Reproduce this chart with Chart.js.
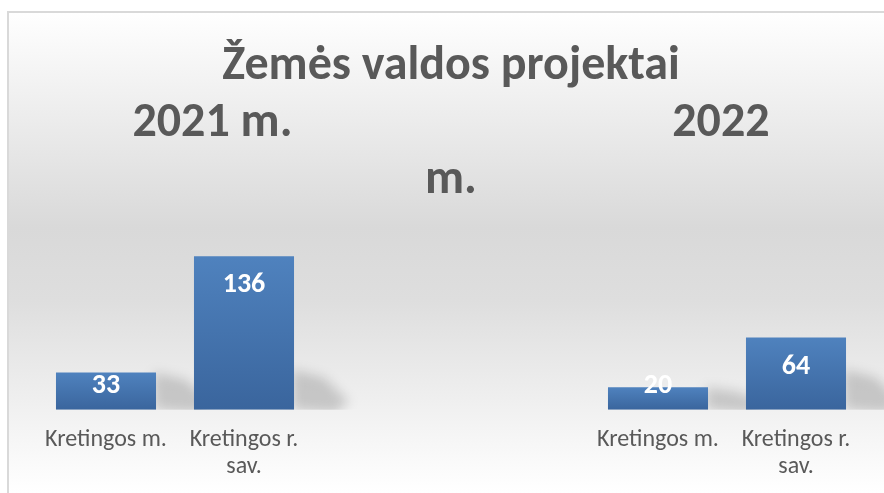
<!DOCTYPE html>
<html>
<head>
<meta charset="utf-8">
<script src="https://cdn.jsdelivr.net/npm/chart.js@4/dist/chart.umd.min.js"></script>
<style>
  html, body { margin: 0; padding: 0; background: #fff; }
  #wrap { width: 884px; height: 493px; }
</style>
</head>
<body>
<div id="wrap"><canvas id="projektai" width="884" height="493"></canvas></div>
<script>
const titleLines = [
  "Žemės valdos projektai",
  "2021 m.                                   2022",
  "m."
];
const categories = [
  "Kretingos m.", ["Kretingos r.", "sav."], "", "",
  "Kretingos m.", ["Kretingos r.", "sav."]
];
const projektai = [33, 136, null, null, 20, 64];

const TEXT = "#595959";
const FONT = "Carlito, 'Open Sans', sans-serif";

// gray box behind everything
const backdrop = {
  id: "backdrop",
  beforeDraw(chart) {
    const ctx = chart.ctx;
    ctx.save();
    let g = ctx.createLinearGradient(0, 11, 0, 493);
    g.addColorStop(0, "#ffffff");
    g.addColorStop(0.45, "#d9d9d9");
    g.addColorStop(0.6, "#dedede");
    g.addColorStop(0.95, "#fbfbfb");
    g.addColorStop(1, "#ffffff");
    ctx.fillStyle = g;
    ctx.fillRect(8, 11, 900, 500);
    ctx.strokeStyle = "#d9d9d9";
    ctx.lineWidth = 2;
    ctx.strokeRect(8, 12, 900, 500);
    ctx.restore();
  }
};

// soft perspective shadow to the right of each bar
const barShadow = {
  id: "barShadow",
  beforeDatasetsDraw(chart) {
    const ctx = chart.ctx;
    const meta = chart.getDatasetMeta(0);
    const area = chart.chartArea;
    ctx.save();
    ctx.beginPath();
    ctx.rect(area.left, area.top, area.right - area.left + 20, area.bottom - area.top);
    ctx.clip();
    ctx.filter = "blur(6px)";
    ctx.fillStyle = "rgba(0,0,0,0.17)";
    meta.data.forEach((bar, i) => {
      if (projektai[i] == null) return;
      const r = bar.x + bar.width / 2;
      const b = bar.base;
      const h = Math.min(40, b - bar.y);
      ctx.beginPath();
      ctx.moveTo(r - 2, b);
      ctx.lineTo(r - 2, b - h);
      ctx.lineTo(r + 30, b - h * 0.8);
      ctx.lineTo(r + 55, b - 8);
      ctx.lineTo(r + 40, b + 4);
      ctx.closePath();
      ctx.fill();
    });
    ctx.restore();
  }
};

const valueLabels = {
  id: "valueLabels",
  afterDatasetsDraw(chart) {
    const ctx = chart.ctx;
    const meta = chart.getDatasetMeta(0);
    ctx.save();
    ctx.fillStyle = "#ffffff";
    ctx.font = "bold 28px " + FONT;
    ctx.textAlign = "center";
    ctx.textBaseline = "middle";
    meta.data.forEach((bar, i) => {
      if (projektai[i] == null) return;
      const y = Math.min(bar.y + 29, bar.base - 24);
      ctx.fillText(String(projektai[i]), bar.x, y);
    });
    ctx.restore();
  }
};

function barFill(context) {
  const chart = context.chart;
  const v = context.raw;
  if (v == null || !chart.chartArea) return "#4a7ab5";
  const y = chart.scales.y;
  const top = y.getPixelForValue(v);
  const bottom = y.getPixelForValue(0);
  const g = chart.ctx.createLinearGradient(0, top, 0, bottom);
  g.addColorStop(0, "#4f82be");
  g.addColorStop(1, "#3a659d");
  return g;
}

new Chart(document.getElementById("projektai"), {
  type: "bar",
  data: {
    labels: categories,
    datasets: [{
      data: projektai,
      backgroundColor: barFill,
      borderWidth: 0,
      barPercentage: 0.725,
      categoryPercentage: 1.0
    }]
  },
  options: {
    responsive: false,
    animation: false,
    events: [],
    layout: { padding: { left: 37, right: 19, top: 38, bottom: -4 } },
    plugins: {
      legend: { display: false },
      tooltip: { enabled: false },
      title: {
        display: true,
        text: titleLines,
        color: TEXT,
        font: { family: FONT, size: 48, weight: "bold", lineHeight: 1.1875 },
        padding: { top: 0, bottom: 10 }
      }
    },
    scales: {
      x: {
        grid: { display: false, drawTicks: false },
        border: { display: false },
        ticks: {
          color: TEXT,
          font: { family: FONT, size: 24, lineHeight: 1.15 },
          padding: 16,
          maxRotation: 0,
          autoSkip: false
        }
      },
      y: {
        display: false,
        min: 0,
        max: 169
      }
    }
  },
  plugins: [backdrop, barShadow, valueLabels]
});
</script>
</body>
</html>
